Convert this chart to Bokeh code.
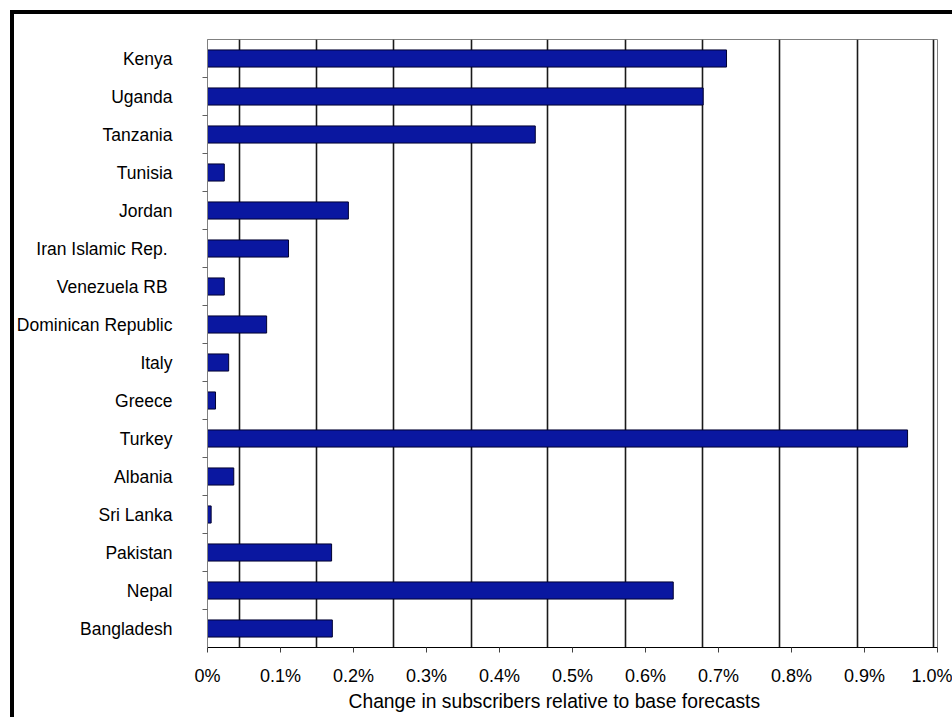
from bokeh.plotting import figure
from bokeh.models import Range1d, FixedTicker, ColumnDataSource, Title
from bokeh.embed import file_html
from bokeh.resources import INLINE

# ---- data ----
countries = ["Kenya", "Uganda", "Tanzania", "Tunisia", "Jordan",
             "Iran  Islamic Rep.", "Venezuela  RB", "Dominican Republic",
             "Italy", "Greece", "Turkey", "Albania", "Sri Lanka",
             "Pakistan", "Nepal", "Bangladesh"]
change_pct = [0.711, 0.679, 0.449, 0.023, 0.193, 0.111, 0.023, 0.081,
              0.029, 0.011, 0.959, 0.036, 0.005, 0.170, 0.638, 0.171]
x_ticks = [0, 0.1, 0.2, 0.3, 0.4, 0.5, 0.6, 0.7, 0.8, 0.9, 1.0]
x_tick_labels = ["0%", "0.1%", "0.2%", "0.3%", "0.4%", "0.5%", "0.6%",
                 "0.7%", "0.8%", "0.9%", "1.0%"]
x_title = "Change in subscribers relative to base forecasts"

# gridline positions as drawn in the original (offset from the tick marks)
grid_positions = [0.044, 0.149, 0.255, 0.362, 0.466, 0.573, 0.678, 0.784, 0.890, 0.995]

n = len(countries)
y_pos = [i + 0.5 for i in range(n)]
boundaries = [float(i) for i in range(1, n)]

src = ColumnDataSource(dict(y=y_pos, v=change_pct, name=countries))

FONT = "Liberation Sans"
W, H = 952, 717

p = figure(width=W, height=H, output_backend="svg", toolbar_location=None,
           x_range=Range1d(0, 1.0), y_range=Range1d(n, 0),
           min_border_left=207, min_border_right=15, min_border_top=39,
           min_border_bottom=70)
# outer chart frame: thick black line on the left and top (painted behind
# the transparent border area, so it takes no layout space)
p.styles = {"box-shadow": "inset 10px 10px 0 0 white, inset 14px 14px 0 0 black"}

p.background_fill_color = "white"
p.border_fill_color = None
p.outline_line_color = "#808080"
p.outline_line_width = 1

# grid
p.ygrid.visible = False
p.xgrid.ticker = FixedTicker(ticks=grid_positions)
p.xgrid.grid_line_color = "#1a1a1a"
p.xgrid.grid_line_width = 1.6

# bars
p.hbar(y="y", right="v", left=0, height=0.45, source=src,
       fill_color="#0a17a0", line_color="#000030", line_width=1)

# x axis
xa = p.xaxis[0]
xa.ticker = FixedTicker(ticks=x_ticks)
xa.major_label_overrides = {t: l for t, l in zip(x_ticks, x_tick_labels)}
xa.axis_line_color = "black"
xa.major_tick_line_color = "#404040"
xa.major_tick_out = 5
xa.major_tick_in = 0
xa.minor_tick_line_color = None
xa.major_label_text_font = FONT
xa.major_label_text_font_size = "18px"
xa.major_label_text_color = "black"
xa.major_label_standoff = 13

p.add_layout(Title(text=x_title, align="left", offset=141,
                   text_font=FONT, text_font_size="19.3px",
                   text_font_style="normal", text_color="black",
                   standoff=0), "below")

# y axis
ya = p.yaxis[0]
ya.ticker = FixedTicker(ticks=y_pos, minor_ticks=boundaries)
ya.major_label_overrides = {t: l for t, l in zip(y_pos, countries)}
ya.axis_line_color = "#808080"
ya.major_tick_line_color = None
ya.major_tick_out = 0
ya.major_tick_in = 0
ya.minor_tick_line_color = "#606060"
ya.minor_tick_out = 5
ya.minor_tick_in = 0
ya.major_label_text_font = FONT
ya.major_label_text_font_size = "17.5px"
ya.major_label_text_color = "black"
ya.major_label_standoff = 30

open("out.html", "w").write(file_html(p, INLINE))
